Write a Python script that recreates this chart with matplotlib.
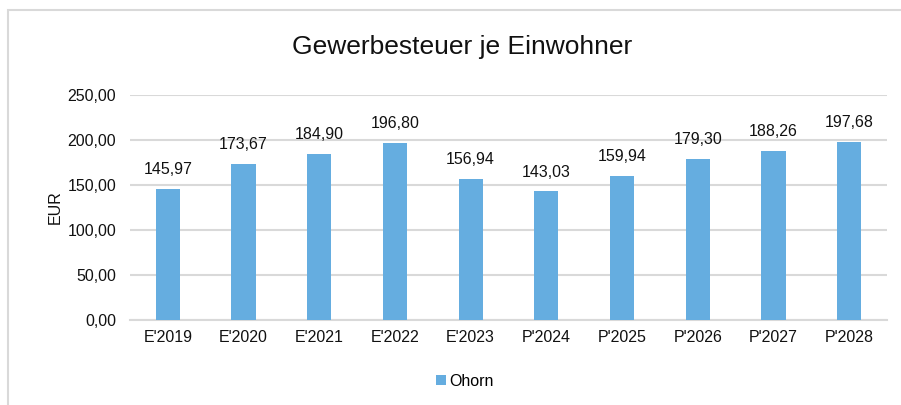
import matplotlib.pyplot as plt
from matplotlib.patches import Rectangle

plt.rcParams['font.family'] = ['Liberation Sans', 'DejaVu Sans']

jahre = ["E'2019", "E'2020", "E'2021", "E'2022", "E'2023",
         "P'2024", "P'2025", "P'2026", "P'2027", "P'2028"]
ohorn = [145.97, 173.67, 184.90, 196.80, 156.94,
         143.03, 159.94, 179.30, 188.26, 197.68]

fig = plt.figure(figsize=(9.01, 4.05), dpi=100)
# Rahmen des Diagramms (oben und links sichtbar)
fig.patches.append(Rectangle((8 / 901, -0.1), 1.2, 1 - 10 / 405 + 0.1,
                             transform=fig.transFigure, fill=False,
                             edgecolor='#d9d9d9', linewidth=1.5))

ax = fig.add_axes([130 / 901, 1 - 320 / 405, 757 / 901, 225 / 405])
x = range(len(jahre))
bars = ax.bar(x, ohorn, width=0.32, color='#65ADE0', label='Ohorn', zorder=3)

for xi, v in zip(x, ohorn):
    ax.text(xi, v + 13, f"{v:.2f}".replace('.', ','), ha='center', va='bottom',
            fontsize=11.5, color='#111111')

ax.set_xlim(-0.5, len(jahre) - 0.5)
ax.set_ylim(0, 250)
ax.set_yticks(range(0, 251, 50))
ax.set_yticklabels([f"{t:.2f}".replace('.', ',') for t in range(0, 251, 50)])
ax.set_xticks(list(x))
ax.set_xticklabels(jahre)
ax.tick_params(axis='both', length=0, labelsize=11.5, colors='#111111')
ax.tick_params(axis='y', pad=10)
ax.tick_params(axis='x', pad=7)
ax.grid(axis='y', color='#d9d9d9', linewidth=1.5, zorder=0)
for s in ['top', 'right', 'left']:
    ax.spines[s].set_visible(False)
ax.spines['bottom'].set_color('#d9d9d9')
ax.spines['bottom'].set_linewidth(1.5)
ax.set_ylabel('EUR', fontsize=11.5, color='#111111', labelpad=3)

fig.text(462 / 901, 1 - 47 / 405, 'Gewerbesteuer je Einwohner', ha='center',
         va='center', fontsize=19, color='#111111')

fig.legend(loc='center', bbox_to_anchor=(465 / 901, 1 - 381 / 405), frameon=False,
           fontsize=11.5, handlelength=0.6, handleheight=0.6, handletextpad=0.2)

fig.savefig('out.png', dpi=100)
